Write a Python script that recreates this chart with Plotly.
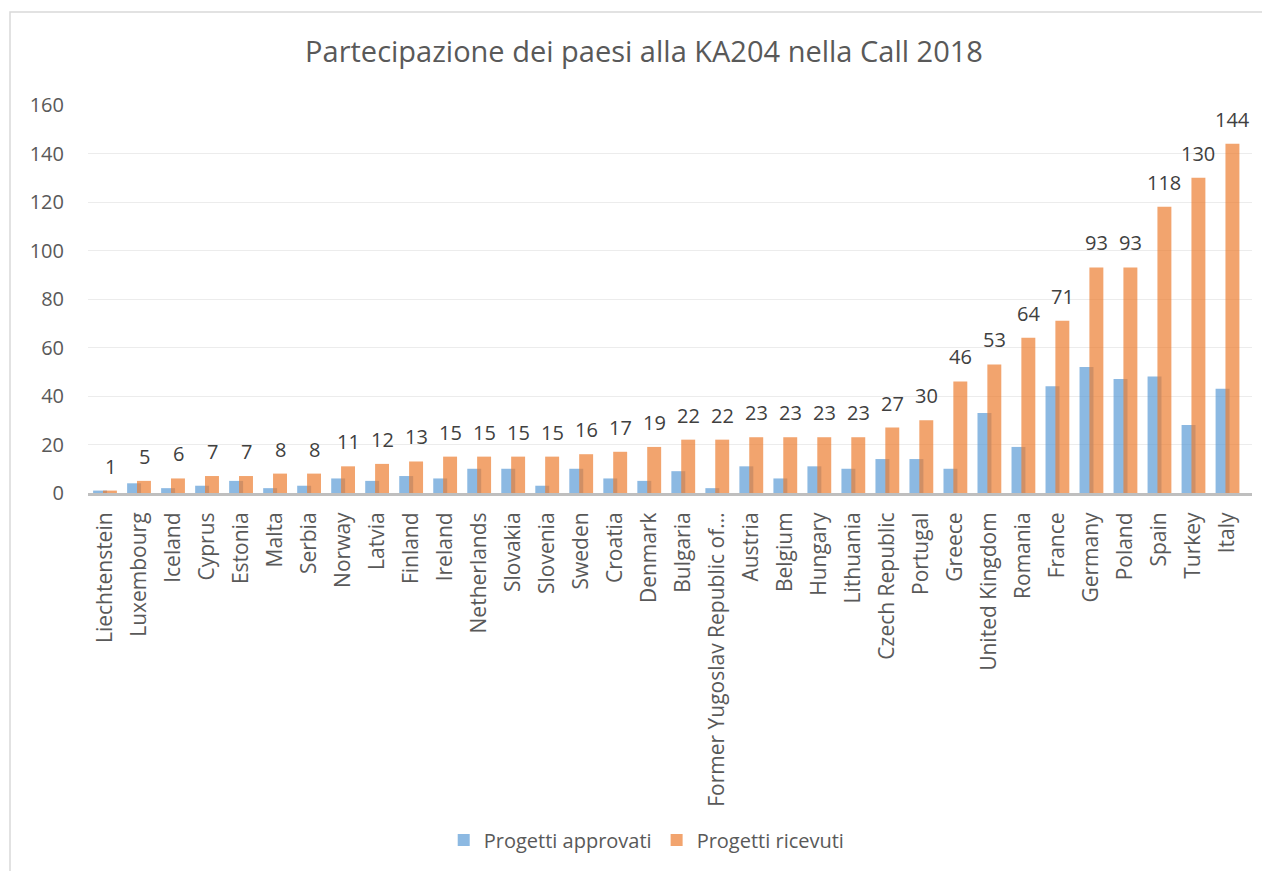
import plotly.graph_objects as go

countries = ["Liechtenstein", "Luxembourg", "Iceland", "Cyprus", "Estonia", "Malta", "Serbia",
             "Norway", "Latvia", "Finland", "Ireland", "Netherlands", "Slovakia", "Slovenia",
             "Sweden", "Croatia", "Denmark", "Bulgaria", "Former Yugoslav Republic of…",
             "Austria", "Belgium", "Hungary", "Lithuania", "Czech Republic", "Portugal",
             "Greece", "United Kingdom", "Romania", "France", "Germany", "Poland", "Spain",
             "Turkey", "Italy"]
approvati = [1, 4, 2, 3, 5, 2, 3, 6, 5, 7, 6, 10, 10, 3, 10, 6, 5, 9, 2, 11, 6, 11, 10, 14, 14,
             10, 33, 19, 44, 52, 47, 48, 28, 43]
ricevuti = [1, 5, 6, 7, 7, 8, 8, 11, 12, 13, 15, 15, 15, 15, 16, 17, 19, 22, 22, 23, 23, 23, 23,
            27, 30, 46, 53, 64, 71, 93, 93, 118, 130, 144]
y_ticks = [0, 20, 40, 60, 80, 100, 120, 140, 160]

FONT = "Open Sans"
GREY = "#595959"

# page has an 8px body margin; figure sized so the plot area lands where the reference has it
W, H = 1262, 863
L, R, T, B = 80, 18, 97, 378
PW, PH = W - L - R, H - T - B

fig = go.Figure()
fig.add_trace(go.Bar(
    x=countries, y=approvati, name="Progetti approvati",
    marker=dict(color="rgba(91,155,213,0.7)", line=dict(width=0)),
    width=0.41, offset=-0.35,
))
fig.add_trace(go.Bar(
    x=countries, y=ricevuti, name="Progetti ricevuti",
    marker=dict(color="rgba(237,125,49,0.7)", line=dict(width=0)),
    width=0.41, offset=-0.06,
))

annotations = []
for c, v in zip(countries, ricevuti):
    annotations.append(dict(
        x=c, y=v, xref="x", yref="y", text=str(v), showarrow=False,
        yanchor="bottom", xanchor="center", xshift=5, yshift=9,
        font=dict(family=FONT, size=20, color="#404040"),
    ))

fig.update_layout(
    width=W, height=H,
    margin=dict(l=L, r=R, t=T, b=B),
    paper_bgcolor="white", plot_bgcolor="white",
    barmode="overlay",
    title=dict(text="Partecipazione dei paesi alla KA204 nella Call 2018",
               x=(644 - 8 - L) / PW, xanchor="center", xref="paper", y=1 - 44 / H,
               yanchor="middle",
               font=dict(family=FONT, size=29, color=GREY)),
    font=dict(family=FONT, color=GREY),
    showlegend=True,
    legend=dict(orientation="h", x=0.48, xanchor="center", y=(485 - 832) / PH, yanchor="middle",
                font=dict(family=FONT, size=20, color=GREY), traceorder="normal",
                itemwidth=30),
    annotations=annotations,
    shapes=[dict(type="rect", xref="paper", yref="paper",
                 x0=(2 - L) / PW, x1=(1300 - L) / PW,
                 y0=(485 - 900) / PH, y1=(485 - 4) / PH,
                 line=dict(color="#d9d9d9", width=1.5), layer="below")],
)
fig.update_xaxes(
    type="category", tickangle=-90, showgrid=False, showline=True,
    linecolor="#bfbfbf", linewidth=3, ticks="", ticklabelstandoff=8,
    tickfont=dict(family=FONT, size=21, color=GREY),
)
fig.update_yaxes(
    range=[0, 160], tickvals=y_ticks, showgrid=True, gridcolor="#ececec", gridwidth=1,
    zeroline=False, showline=False, ticks="", ticklabelstandoff=23,
    tickfont=dict(family=FONT, size=20, color=GREY),
)

fig.write_html("out.html")
